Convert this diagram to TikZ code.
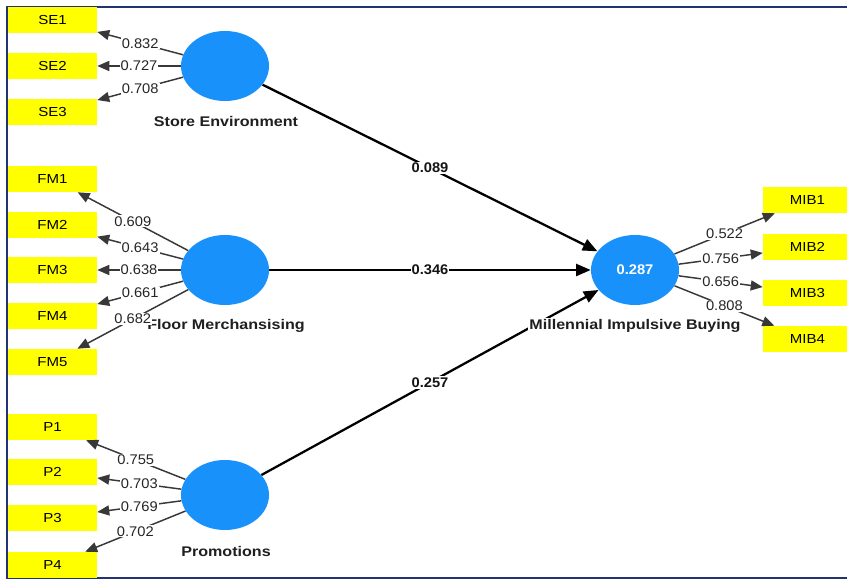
\documentclass[tikz,border=0pt]{standalone}
\usepackage{fontspec}
\setmainfont[FakeStretch=1.15]{Liberation Sans}
\newfontfamily\numfont[FakeStretch=1.05]{Liberation Sans}
\usepackage{xcolor}
\usepackage{tikz}
\usetikzlibrary{shapes.geometric}
\usetikzlibrary{arrows.meta}
\definecolor{lvblue}{RGB}{25,145,250}
\definecolor{indyellow}{RGB}{255,255,0}
\definecolor{framenavy}{RGB}{35,50,115}
\tikzset{
  lv/.style={ellipse, fill=lvblue, draw=none, minimum width=66pt, minimum height=52.5pt, inner sep=0pt},
  ind/.style={rectangle, fill=indyellow, minimum width=66.75pt, minimum height=19.5pt, inner sep=0pt,
    font=\fontsize{9.8}{11}\selectfont},
  lvname/.style={fill=white, inner sep=1pt, font=\bfseries\fontsize{10.5}{12}\selectfont, text=black!88},
  loading/.style={draw=black!78, line width=1.1pt, -{Triangle[length=9pt,width=7.5pt]}},
  coef/.style={draw=black, line width=1.7pt, -{Triangle[length=11pt,width=9pt]}},
  weight/.style={fill=white, inner sep=0.8pt, text=black!85, font=\numfont\fontsize{10.5}{12}\selectfont},
  bweight/.style={weight, text=black!92, font=\numfont\bfseries\fontsize{10.5}{12}\selectfont}
}

\begin{document}
\begin{tikzpicture}[x=0.75pt, y=-0.75pt]
		\clip (0,0) rectangle (847,580);
		\fill[white] (0,0) rectangle (847,580);
		\draw[framenavy, line width=1.8pt] (860,7) -- (7,7) -- (7,578) -- (860,578);
		%
		\node[lv] (se) at (225,66) {};
		\node[lv] (fm) at (225,270) {};
		\node[lv] (pr) at (225,495) {};
		\node[lv, text=white, font=\numfont\bfseries\fontsize{10.5}{12}\selectfont] (mib) at (635,270) {0.287};
		%
		\node[ind] (se1) at (52.5,20) {SE1};
		\node[ind] (se2) at (52.5,66) {SE2};
		\node[ind] (se3) at (52.5,112) {SE3};
		\node[ind] (fm1) at (52.5,179) {FM1};
		\node[ind] (fm2) at (52.5,225) {FM2};
		\node[ind] (fm3) at (52.5,270) {FM3};
		\node[ind] (fm4) at (52.5,316) {FM4};
		\node[ind] (fm5) at (52.5,362) {FM5};
		\node[ind] (p1) at (52.5,427) {P1};
		\node[ind] (p2) at (52.5,472) {P2};
		\node[ind] (p3) at (52.5,518) {P3};
		\node[ind] (p4) at (52.5,565) {P4};
		\node[ind] (mib1) at (807.5,200) {MIB1};
		\node[ind] (mib2) at (807.5,247) {MIB2};
		\node[ind] (mib3) at (807.5,293) {MIB3};
		\node[ind] (mib4) at (807.5,339) {MIB4};
		%
		\draw[coef] (se) -- (mib) node[bweight, midway] {0.089};
		\draw[coef] (fm) -- (mib) node[bweight, midway] {0.346};
		\draw[coef] (pr) -- (mib) node[bweight, midway] {0.257};
		%
		\node[lvname] (sename) at (226,122) {Store Environment};
		\node[lvname] (fmname) at (226,326) {Floor Merchansising};
		\node[lvname] (prname) at (226,551) {Promotions};
		\node[lvname] (mibname) at (635,326) {Millennial Impulsive Buying};
		%
		\draw[loading] (se) -- (se1) node[weight, midway] {0.832};
		\draw[loading] (se) -- (se2) node[weight, midway] {0.727};
		\draw[loading] (se) -- (se3) node[weight, midway] {0.708};
		%
		\draw[loading] (fm) -- (fm1) node[weight, midway] {0.609};
		\draw[loading] (fm) -- (fm2) node[weight, midway] {0.643};
		\draw[loading] (fm) -- (fm3) node[weight, midway] {0.638};
		\draw[loading] (fm) -- (fm4) node[weight, midway] {0.661};
		\draw[loading] (fm) -- (fm5) node[weight, midway] {0.682};
		%
		\draw[loading] (pr) -- (p1) node[weight, midway] {0.755};
		\draw[loading] (pr) -- (p2) node[weight, midway] {0.703};
		\draw[loading] (pr) -- (p3) node[weight, midway] {0.769};
		\draw[loading] (pr) -- (p4) node[weight, midway] {0.702};
		%
		\draw[loading] (mib) -- (mib1) node[weight, midway] {0.522};
		\draw[loading] (mib) -- (mib2) node[weight, midway] {0.756};
		\draw[loading] (mib) -- (mib3) node[weight, midway] {0.656};
		\draw[loading] (mib) -- (mib4) node[weight, midway] {0.808};
	\end{tikzpicture}
\end{document}
